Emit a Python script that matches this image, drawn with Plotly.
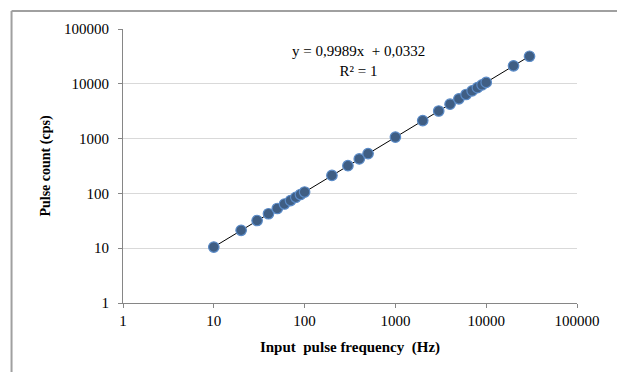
import numpy as np
import plotly.graph_objects as go

# Data
input_freq_hz = [10, 20, 30, 40, 50, 60, 70, 80, 90, 100,
                 200, 300, 400, 500, 1000, 2000, 3000, 4000, 5000,
                 6000, 7000, 8000, 9000, 10000, 20000, 30000]
pulse_count_cps = [10.5, 21.2, 32, 42.5, 53, 64, 74, 85, 95.5, 106,
                   213, 320, 426, 532, 1065, 2130, 3190, 4250, 5320,
                   6380, 7440, 8500, 9560, 10600, 21300, 31800]
tick_vals = [1, 10, 100, 1000, 10000, 100000]
tick_text = ["1", "10", "100", "1000", "10000", "100000"]
equation_text = "y = 0,9989x\u00a0 + 0,0332<br>R² = 1"

FONT = "Liberation Serif, Times New Roman, serif"

x = np.array(input_freq_hz, dtype=float)
y = np.array(pulse_count_cps, dtype=float)
# linear trendline, weighted for relative error so it follows all decades
slope, intercept = np.polyfit(x, y, 1, w=1.0 / y)
x_line = np.array([x.min(), x.max()])
y_line = slope * x_line + intercept

fig = go.Figure()
fig.add_trace(go.Scatter(
    x=x_line, y=y_line, mode="lines",
    line=dict(color="black", width=1), showlegend=False, hoverinfo="skip"))
fig.add_trace(go.Scatter(
    x=input_freq_hz, y=pulse_count_cps, mode="markers",
    marker=dict(size=10.5, color="#3f5e84", line=dict(color="#5b8bc7", width=1.2)),
    showlegend=False))

fig.add_annotation(
    x=0.518, y=0.955, xref="paper", yref="paper", xanchor="center", yanchor="top",
    text=equation_text, showarrow=False, align="center",
    font=dict(family=FONT, size=15, color="black"))

# outer chart frame (only top and left edges fall inside the picture)
frame_style = dict(color="#a0a0a0", width=2)
fig.add_shape(type="line", xref="paper", yref="paper",
              x0=-0.2455, x1=1.2, y0=1.066, y1=1.066, line=frame_style, layer="below")
fig.add_shape(type="line", xref="paper", yref="paper",
              x0=-0.2455, x1=-0.2455, y0=-0.3, y1=1.066, line=frame_style, layer="below")

axis_common = dict(
    type="log", range=[0, 5], tickvals=tick_vals, ticktext=tick_text,
    showline=True, linecolor="#868686", linewidth=1,
    ticks="outside", ticklen=4, tickcolor="#868686",
    tickfont=dict(family=FONT, size=15, color="black"),
    zeroline=False)

fig.update_xaxes(**axis_common, showgrid=False,
                 title=dict(text="<b>Input\u00a0 pulse frequency\u00a0 (Hz)</b>",
                            font=dict(family=FONT, size=15, color="black"), standoff=13))
fig.update_yaxes(**axis_common, showgrid=True, gridcolor="#d9d9d9", gridwidth=1,
                 ticklabelstandoff=6,
                 title=dict(text="<b>Pulse count (cps)</b>",
                            font=dict(family=FONT, size=14, color="black"), standoff=10))

fig.update_layout(
    width=617, height=372,
    margin=dict(l=122.5, r=39.7, t=29, b=69.3, autoexpand=False),
    paper_bgcolor="white", plot_bgcolor="white",
    font=dict(family=FONT, size=14, color="black"))

fig.write_html("out.html", config={"displayModeBar": False},
               post_script="document.body.style.margin='0';document.body.style.overflow='hidden';")
